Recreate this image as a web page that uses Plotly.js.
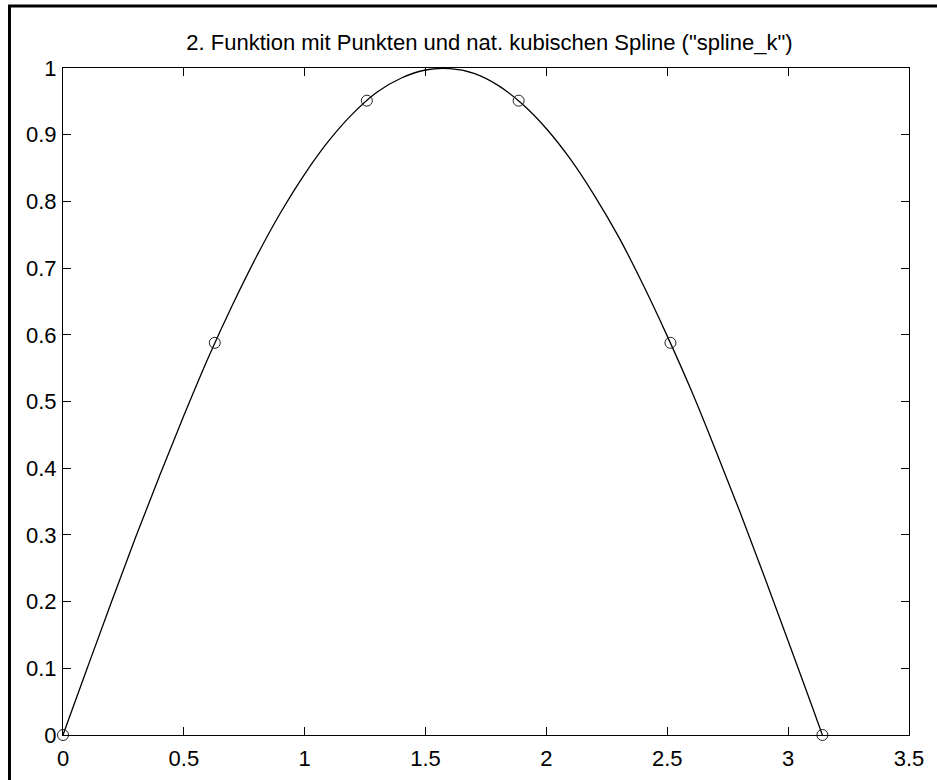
<!DOCTYPE html>
<html>
<head>
<meta charset="utf-8">
<script src="https://cdn.plot.ly/plotly-3.0.1.min.js"></script>
<style>
  html, body { margin: 0; padding: 0; background: #fff; }
  #plot { width: 937px; height: 780px; }
</style>
</head>
<body>
<div id="plot"></div>
<script>
// Interpolation nodes (sample points of the function)
const nodeX = [0, 0.628, 1.257, 1.885, 2.513, 3.1416];
const nodeY = [0, 0.588, 0.951, 0.951, 0.588, 0];

// Natural cubic spline curve, sampled along x
const curveX = [0, 0.1, 0.2, 0.3, 0.4, 0.5, 0.6, 0.7, 0.8, 0.9, 1.0, 1.1, 1.2, 1.3, 1.4, 1.5,
                1.6, 1.7, 1.8, 1.9, 2.0, 2.1, 2.2, 2.3, 2.4, 2.5, 2.6, 2.7, 2.8, 2.9, 3.0, 3.1, 3.1416];
const curveY = [0, 0.100, 0.199, 0.296, 0.389, 0.479, 0.565, 0.644, 0.717, 0.783, 0.841, 0.891,
                0.932, 0.964, 0.985, 0.997, 0.999, 0.992, 0.974, 0.946, 0.909, 0.863, 0.808,
                0.746, 0.675, 0.598, 0.516, 0.427, 0.335, 0.239, 0.141, 0.042, 0];

const xTicks = [0, 0.5, 1, 1.5, 2, 2.5, 3, 3.5];
const yTicks = [0, 0.1, 0.2, 0.3, 0.4, 0.5, 0.6, 0.7, 0.8, 0.9, 1];

const titleText = '2. Funktion mit Punkten und nat. kubischen Spline ("spline_k")';

const font = 'Liberation Sans, Arial, Helvetica, sans-serif';

const traces = [
  {
    x: curveX, y: curveY,
    type: 'scatter', mode: 'lines',
    line: { color: '#000', width: 1.3, shape: 'spline', smoothing: 1 },
    hoverinfo: 'skip'
  },
  {
    x: nodeX, y: nodeY,
    type: 'scatter', mode: 'markers',
    marker: { symbol: 'circle-open', size: 11, color: '#222', line: { width: 1, color: '#222' } },
    cliponaxis: false
  }
];

const axisCommon = {
  showgrid: false, zeroline: false,
  showline: true, linecolor: '#000', linewidth: 1,
  mirror: 'ticks', ticks: 'inside', ticklen: 8, tickwidth: 1, tickcolor: '#000',
  tickfont: { family: font, size: 22, color: '#000' },
  fixedrange: true
};

const layout = {
  width: 937, height: 780,
  margin: { l: 63, r: 28, t: 68, b: 45 },
  paper_bgcolor: '#fff', plot_bgcolor: '#fff',
  showlegend: false,
  title: {
    text: titleText,
    font: { family: font, size: 22, color: '#000' },
    xref: 'paper', x: 0.5041, xanchor: 'center',
    yref: 'container', y: 0.9455, yanchor: 'middle'
  },
  xaxis: Object.assign({}, axisCommon, {
    range: [0, 3.5], tickmode: 'array', tickvals: xTicks,
    ticktext: xTicks.map(String), ticklabelstandoff: 4
  }),
  yaxis: Object.assign({}, axisCommon, {
    range: [0, 1], tickmode: 'array', tickvals: yTicks,
    ticktext: yTicks.map(String), ticklabelstandoff: 1
  }),
  shapes: [
    // figure frame: left and top edges
    { type: 'line', xref: 'paper', yref: 'paper', x0: -0.06324, x1: -0.06324, y0: 1.0930, y1: -0.0675,
      line: { color: '#000', width: 3 } },
    { type: 'line', xref: 'paper', yref: 'paper', x0: -0.065, x1: 1.0331, y0: 1.0930, y1: 1.0930,
      line: { color: '#000', width: 3 } }
  ]
};

Plotly.newPlot('plot', traces, layout, { displayModeBar: false, staticPlot: true });
</script>
</body>
</html>
